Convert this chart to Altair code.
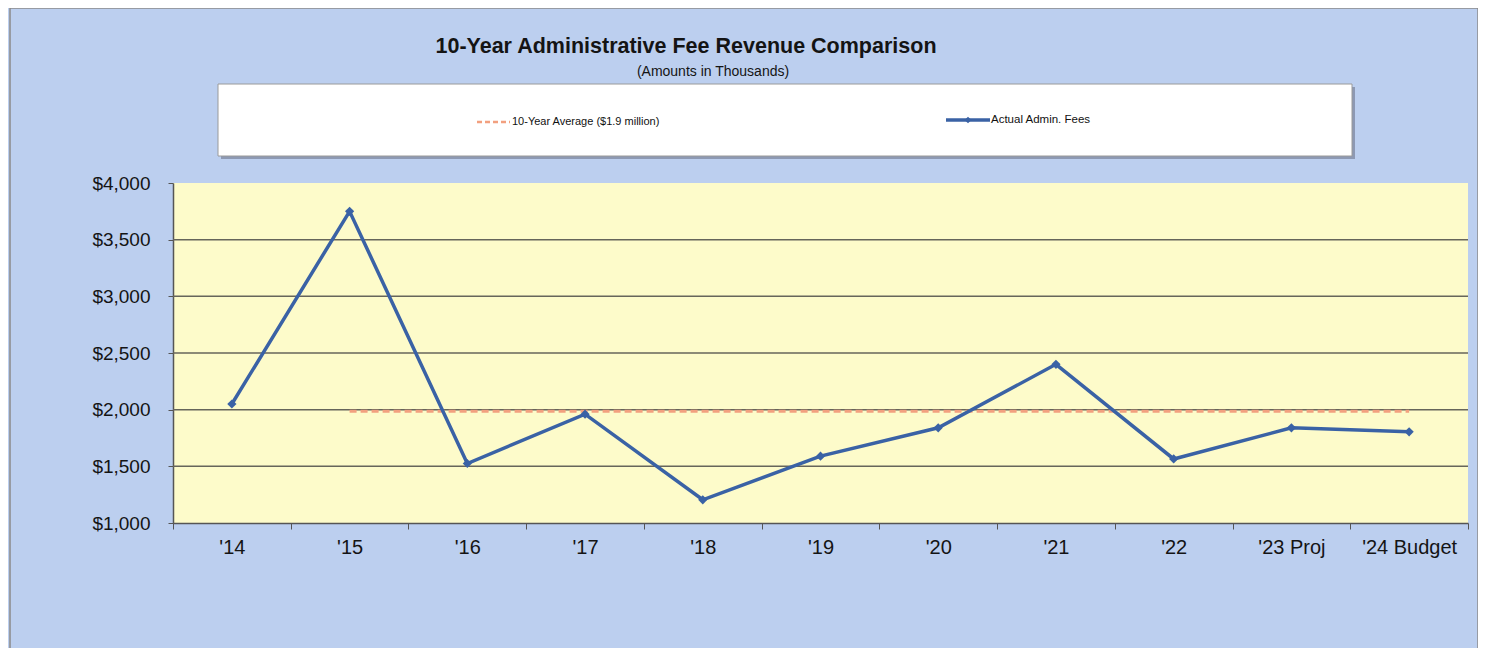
import altair as alt
import pandas as pd

# ---- data ----
years = ["'14", "'15", "'16", "'17", "'18", "'19", "'20", "'21", "'22", "'23 Proj", "'24 Budget"]
actual_fees = [2050, 3750, 1525, 1960, 1205, 1590, 1840, 2400, 1565, 1840, 1805]
avg_years = ["'15", "'16", "'17", "'18", "'19", "'20", "'21", "'22", "'23 Proj", "'24 Budget"]
avg_values = [1985, 1985, 1985, 1985, 1985, 1985, 1985, 1985, 1985, 1985]
y_ticks = [1000, 1500, 2000, 2500, 3000, 3500, 4000]
grid_values = [1500, 2000, 2500, 3000, 3500]

title_text = "10-Year Administrative Fee Revenue Comparison"
subtitle_text = "(Amounts in Thousands)"
legend_avg = "10-Year Average ($1.9 million)"
legend_actual = "Actual Admin. Fees"

FONT = "Liberation Sans"
BLUE = "#3a62a5"
SALMON = "#f2a07f"

actual_df = pd.DataFrame({"year": years, "value": actual_fees})
avg_df = pd.DataFrame({"year": avg_years, "value": avg_values})
grid_df = pd.DataFrame({"value": grid_values})
one = pd.DataFrame({"a": [0]})

x_scale = alt.Scale(type="band", domain=years, paddingInner=0, paddingOuter=0)
y_scale = alt.Scale(domain=[1000, 4000], nice=False, zero=False)

x_enc = alt.X("year:N", scale=x_scale, sort=years,
              axis=alt.Axis(title=None, labelAngle=0, tickBand="extent", tickSize=6,
                            labelPadding=8, labelFontSize=20, labelFont=FONT,
                            labelColor="#141414", domainColor="#555555", tickColor="#555555",
                            domainWidth=1.5, grid=False))
y_enc = alt.Y("value:Q", scale=y_scale,
              axis=alt.Axis(title=None, values=y_ticks, format="$,.0f", tickSize=5,
                            labelPadding=18, labelFontSize=19, labelFont=FONT,
                            labelColor="#141414", domainColor="#555555", tickColor="#555555",
                            domainWidth=1.5, grid=False))

# outer border
border = alt.Chart(one).mark_rect(fill=None, stroke="#8a8a8a", strokeWidth=1.5).encode(
    x=alt.value(-163), x2=alt.value(1305), y=alt.value(-175), y2=alt.value(470))

# legend box with shadow
legend_shadow = alt.Chart(one).mark_rect(fill="#8d99b3").encode(
    x=alt.value(48), x2=alt.value(1182), y=alt.value(-96), y2=alt.value(-24))
legend_box = alt.Chart(one).mark_rect(fill="white", stroke="#9a9a9a", strokeWidth=1).encode(
    x=alt.value(45), x2=alt.value(1179), y=alt.value(-99), y2=alt.value(-27))
leg_avg_line = alt.Chart(one).mark_rule(color=SALMON, strokeWidth=2.5, strokeDash=[5, 3]).encode(
    x=alt.value(304), x2=alt.value(337), y=alt.value(-61))
leg_avg_text = alt.Chart(one).mark_text(text=legend_avg, font=FONT, fontSize=11, align="left",
                                        baseline="middle", color="#111111").encode(
    x=alt.value(339), y=alt.value(-61))
leg_act_line = alt.Chart(one).mark_rule(color=BLUE, strokeWidth=3.5).encode(
    x=alt.value(773), x2=alt.value(817), y=alt.value(-63))
leg_act_pt = alt.Chart(one).mark_point(shape="diamond", filled=True, size=45, color=BLUE, opacity=1).encode(
    x=alt.value(795), y=alt.value(-63))
leg_act_text = alt.Chart(one).mark_text(text=legend_actual, font=FONT, fontSize=11.5, align="left",
                                        baseline="middle", color="#111111").encode(
    x=alt.value(818), y=alt.value(-63))

title = alt.Chart(one).mark_text(text=title_text, font=FONT, fontSize=21.5, fontWeight="bold",
                                 align="center", baseline="middle", color="#141414").encode(
    x=alt.value(513), y=alt.value(-136))
subtitle = alt.Chart(one).mark_text(text=subtitle_text, font=FONT, fontSize=14,
                                    align="center", baseline="middle", color="#141414").encode(
    x=alt.value(540), y=alt.value(-111))

grid = alt.Chart(grid_df).mark_rule(color="#66655a", strokeWidth=1.5).encode(
    y=alt.Y("value:Q", scale=y_scale))

avg_line = alt.Chart(avg_df).mark_line(color=SALMON, strokeWidth=3, strokeDash=[7, 4]).encode(
    x=x_enc, y=y_enc)

actual_line = alt.Chart(actual_df).mark_line(
    color=BLUE, strokeWidth=3.5,
    point=alt.OverlayMarkDef(shape="diamond", filled=True, size=85, color=BLUE, opacity=1)
).encode(x=x_enc, y=y_enc)

chart = alt.layer(
    border, legend_shadow, legend_box, leg_avg_line, leg_avg_text, leg_act_line, leg_act_pt,
    leg_act_text, title, subtitle, grid, avg_line, actual_line
).properties(
    width=1295, height=340,
    background="#bccfef",
    autosize=alt.AutoSizeParams(type="none"),
    padding={"left": 165, "top": 175, "right": 10, "bottom": 125},
).configure_view(
    fill="#fdfbca", strokeWidth=0
)

chart.save("out.html", embed_options={"renderer": "svg", "actions": False})
